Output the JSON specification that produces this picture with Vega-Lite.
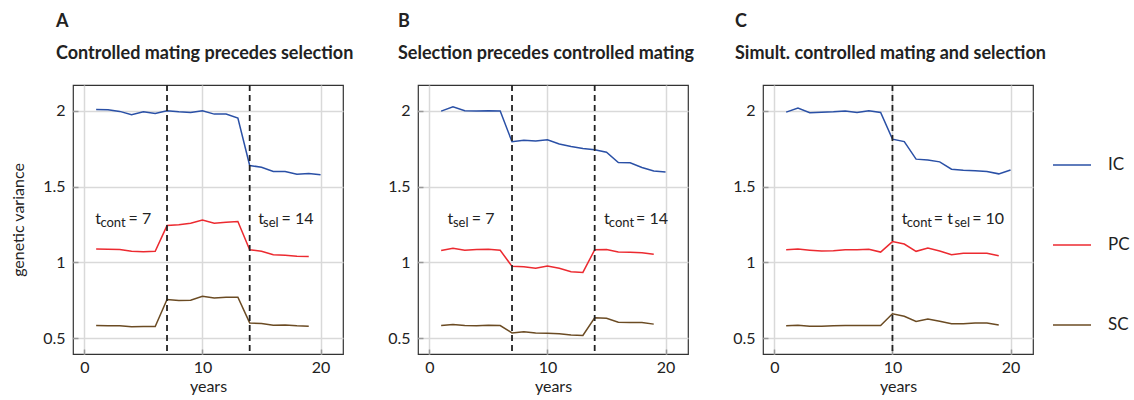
{
  "$schema": "https://vega.github.io/schema/vega-lite/v6.json",
  "background": "white",
  "padding": {"left": 10, "top": 12, "right": 5, "bottom": 5},
  "config": {
    "font": "Lato",
    "view": {"stroke": "#333333", "strokeWidth": 1.2},
    "axis": {"gridColor": "#d9d9d9", "gridWidth": 1.5, "domain": false, "tickColor": "#9a9a9a", "tickSize": -5, "tickWidth": 1.5, "labelFontSize": 16, "labelColor": "#222222", "titleFontSize": 16, "titleFontWeight": "normal", "titleColor": "#222222", "labelFont": "Lato", "titleFont": "Lato"},
    "axisX": {"labelPadding": 10},
    "axisY": {"labelPadding": 13},
    "title": {"font": "Lato", "color": "#222222", "fontSize": 18, "fontWeight": "bold", "subtitleFont": "Lato", "subtitleFontSize": 18, "subtitleFontWeight": "bold", "subtitleColor": "#222222", "subtitlePadding": 14, "anchor": "start", "frame": "group", "offset": 21},
    "legend": {"labelFont": "Lato"}
  },
  "datasets": {
    "series": [
      {"p":"A","s":"IC","year":1,"v":2.009},{"p":"A","s":"IC","year":2,"v":2.007},{"p":"A","s":"IC","year":3,"v":1.996},{"p":"A","s":"IC","year":4,"v":1.974},{"p":"A","s":"IC","year":5,"v":1.993},{"p":"A","s":"IC","year":6,"v":1.982},{"p":"A","s":"IC","year":7,"v":2.0},{"p":"A","s":"IC","year":8,"v":1.993},{"p":"A","s":"IC","year":9,"v":1.989},{"p":"A","s":"IC","year":10,"v":2.0},{"p":"A","s":"IC","year":11,"v":1.978},{"p":"A","s":"IC","year":12,"v":1.978},{"p":"A","s":"IC","year":13,"v":1.952},{"p":"A","s":"IC","year":14,"v":1.639},{"p":"A","s":"IC","year":15,"v":1.628},{"p":"A","s":"IC","year":16,"v":1.6},{"p":"A","s":"IC","year":17,"v":1.6},{"p":"A","s":"IC","year":18,"v":1.582},{"p":"A","s":"IC","year":19,"v":1.587},{"p":"A","s":"IC","year":20,"v":1.578},
      {"p":"A","s":"PC","year":1,"v":1.089},{"p":"A","s":"PC","year":2,"v":1.087},{"p":"A","s":"PC","year":3,"v":1.085},{"p":"A","s":"PC","year":4,"v":1.074},{"p":"A","s":"PC","year":5,"v":1.07},{"p":"A","s":"PC","year":6,"v":1.074},{"p":"A","s":"PC","year":7,"v":1.243},{"p":"A","s":"PC","year":8,"v":1.248},{"p":"A","s":"PC","year":9,"v":1.259},{"p":"A","s":"PC","year":10,"v":1.279},{"p":"A","s":"PC","year":11,"v":1.259},{"p":"A","s":"PC","year":12,"v":1.265},{"p":"A","s":"PC","year":13,"v":1.27},{"p":"A","s":"PC","year":14,"v":1.083},{"p":"A","s":"PC","year":15,"v":1.074},{"p":"A","s":"PC","year":16,"v":1.05},{"p":"A","s":"PC","year":17,"v":1.048},{"p":"A","s":"PC","year":18,"v":1.041},{"p":"A","s":"PC","year":19,"v":1.039},
      {"p":"A","s":"SC","year":1,"v":0.584},{"p":"A","s":"SC","year":2,"v":0.582},{"p":"A","s":"SC","year":3,"v":0.582},{"p":"A","s":"SC","year":4,"v":0.575},{"p":"A","s":"SC","year":5,"v":0.577},{"p":"A","s":"SC","year":6,"v":0.577},{"p":"A","s":"SC","year":7,"v":0.755},{"p":"A","s":"SC","year":8,"v":0.749},{"p":"A","s":"SC","year":9,"v":0.751},{"p":"A","s":"SC","year":10,"v":0.777},{"p":"A","s":"SC","year":11,"v":0.766},{"p":"A","s":"SC","year":12,"v":0.771},{"p":"A","s":"SC","year":13,"v":0.771},{"p":"A","s":"SC","year":14,"v":0.601},{"p":"A","s":"SC","year":15,"v":0.597},{"p":"A","s":"SC","year":16,"v":0.586},{"p":"A","s":"SC","year":17,"v":0.588},{"p":"A","s":"SC","year":18,"v":0.582},{"p":"A","s":"SC","year":19,"v":0.579},
      {"p":"B","s":"IC","year":1,"v":1.998},{"p":"B","s":"IC","year":2,"v":2.027},{"p":"B","s":"IC","year":3,"v":2.0},{"p":"B","s":"IC","year":4,"v":1.998},{"p":"B","s":"IC","year":5,"v":2.0},{"p":"B","s":"IC","year":6,"v":1.998},{"p":"B","s":"IC","year":7,"v":1.796},{"p":"B","s":"IC","year":8,"v":1.805},{"p":"B","s":"IC","year":9,"v":1.801},{"p":"B","s":"IC","year":10,"v":1.809},{"p":"B","s":"IC","year":11,"v":1.781},{"p":"B","s":"IC","year":12,"v":1.765},{"p":"B","s":"IC","year":13,"v":1.752},{"p":"B","s":"IC","year":14,"v":1.743},{"p":"B","s":"IC","year":15,"v":1.727},{"p":"B","s":"IC","year":16,"v":1.659},{"p":"B","s":"IC","year":17,"v":1.657},{"p":"B","s":"IC","year":18,"v":1.626},{"p":"B","s":"IC","year":19,"v":1.603},{"p":"B","s":"IC","year":20,"v":1.597},
      {"p":"B","s":"PC","year":1,"v":1.078},{"p":"B","s":"PC","year":2,"v":1.094},{"p":"B","s":"PC","year":3,"v":1.08},{"p":"B","s":"PC","year":4,"v":1.085},{"p":"B","s":"PC","year":5,"v":1.087},{"p":"B","s":"PC","year":6,"v":1.08},{"p":"B","s":"PC","year":7,"v":0.974},{"p":"B","s":"PC","year":8,"v":0.972},{"p":"B","s":"PC","year":9,"v":0.961},{"p":"B","s":"PC","year":10,"v":0.976},{"p":"B","s":"PC","year":11,"v":0.961},{"p":"B","s":"PC","year":12,"v":0.939},{"p":"B","s":"PC","year":13,"v":0.934},{"p":"B","s":"PC","year":14,"v":1.083},{"p":"B","s":"PC","year":15,"v":1.085},{"p":"B","s":"PC","year":16,"v":1.069},{"p":"B","s":"PC","year":17,"v":1.067},{"p":"B","s":"PC","year":18,"v":1.063},{"p":"B","s":"PC","year":19,"v":1.054},
      {"p":"B","s":"SC","year":1,"v":0.584},{"p":"B","s":"SC","year":2,"v":0.591},{"p":"B","s":"SC","year":3,"v":0.584},{"p":"B","s":"SC","year":4,"v":0.582},{"p":"B","s":"SC","year":5,"v":0.586},{"p":"B","s":"SC","year":6,"v":0.584},{"p":"B","s":"SC","year":7,"v":0.535},{"p":"B","s":"SC","year":8,"v":0.542},{"p":"B","s":"SC","year":9,"v":0.535},{"p":"B","s":"SC","year":10,"v":0.533},{"p":"B","s":"SC","year":11,"v":0.529},{"p":"B","s":"SC","year":12,"v":0.522},{"p":"B","s":"SC","year":13,"v":0.518},{"p":"B","s":"SC","year":14,"v":0.635},{"p":"B","s":"SC","year":15,"v":0.631},{"p":"B","s":"SC","year":16,"v":0.606},{"p":"B","s":"SC","year":17,"v":0.604},{"p":"B","s":"SC","year":18,"v":0.604},{"p":"B","s":"SC","year":19,"v":0.593},
      {"p":"C","s":"IC","year":1,"v":1.991},{"p":"C","s":"IC","year":2,"v":2.018},{"p":"C","s":"IC","year":3,"v":1.987},{"p":"C","s":"IC","year":4,"v":1.991},{"p":"C","s":"IC","year":5,"v":1.993},{"p":"C","s":"IC","year":6,"v":1.998},{"p":"C","s":"IC","year":7,"v":1.989},{"p":"C","s":"IC","year":8,"v":2.0},{"p":"C","s":"IC","year":9,"v":1.989},{"p":"C","s":"IC","year":10,"v":1.813},{"p":"C","s":"IC","year":11,"v":1.797},{"p":"C","s":"IC","year":12,"v":1.681},{"p":"C","s":"IC","year":13,"v":1.676},{"p":"C","s":"IC","year":14,"v":1.663},{"p":"C","s":"IC","year":15,"v":1.615},{"p":"C","s":"IC","year":16,"v":1.608},{"p":"C","s":"IC","year":17,"v":1.604},{"p":"C","s":"IC","year":18,"v":1.599},{"p":"C","s":"IC","year":19,"v":1.584},{"p":"C","s":"IC","year":20,"v":1.61},
      {"p":"C","s":"PC","year":1,"v":1.084},{"p":"C","s":"PC","year":2,"v":1.088},{"p":"C","s":"PC","year":3,"v":1.081},{"p":"C","s":"PC","year":4,"v":1.075},{"p":"C","s":"PC","year":5,"v":1.077},{"p":"C","s":"PC","year":6,"v":1.084},{"p":"C","s":"PC","year":7,"v":1.084},{"p":"C","s":"PC","year":8,"v":1.086},{"p":"C","s":"PC","year":9,"v":1.068},{"p":"C","s":"PC","year":10,"v":1.137},{"p":"C","s":"PC","year":11,"v":1.121},{"p":"C","s":"PC","year":12,"v":1.073},{"p":"C","s":"PC","year":13,"v":1.095},{"p":"C","s":"PC","year":14,"v":1.075},{"p":"C","s":"PC","year":15,"v":1.051},{"p":"C","s":"PC","year":16,"v":1.06},{"p":"C","s":"PC","year":17,"v":1.06},{"p":"C","s":"PC","year":18,"v":1.06},{"p":"C","s":"PC","year":19,"v":1.044},
      {"p":"C","s":"SC","year":1,"v":0.582},{"p":"C","s":"SC","year":2,"v":0.586},{"p":"C","s":"SC","year":3,"v":0.579},{"p":"C","s":"SC","year":4,"v":0.579},{"p":"C","s":"SC","year":5,"v":0.582},{"p":"C","s":"SC","year":6,"v":0.584},{"p":"C","s":"SC","year":7,"v":0.584},{"p":"C","s":"SC","year":8,"v":0.584},{"p":"C","s":"SC","year":9,"v":0.584},{"p":"C","s":"SC","year":10,"v":0.661},{"p":"C","s":"SC","year":11,"v":0.645},{"p":"C","s":"SC","year":12,"v":0.61},{"p":"C","s":"SC","year":13,"v":0.626},{"p":"C","s":"SC","year":14,"v":0.612},{"p":"C","s":"SC","year":15,"v":0.595},{"p":"C","s":"SC","year":16,"v":0.595},{"p":"C","s":"SC","year":17,"v":0.601},{"p":"C","s":"SC","year":18,"v":0.601},{"p":"C","s":"SC","year":19,"v":0.588}
    ],
    "vlines": [
      {"p":"A","year":7},{"p":"A","year":14},{"p":"B","year":7},{"p":"B","year":14},{"p":"C","year":10}
    ],
    "notes": [
      {"p":"A","part":"main","year":0.93,"v":1.251,"label":"t"},
      {"p":"A","part":"sub","year":1.36,"v":1.251,"label":"cont"},
      {"p":"A","part":"main","year":3.74,"v":1.251,"label":"= 7"},
      {"p":"A","part":"main","year":14.73,"v":1.251,"label":"t"},
      {"p":"A","part":"sub","year":15.13,"v":1.251,"label":"sel"},
      {"p":"A","part":"main","year":16.7,"v":1.251,"label":"= 14"},
      {"p":"B","part":"main","year":1.53,"v":1.251,"label":"t"},
      {"p":"B","part":"sub","year":2.0,"v":1.251,"label":"sel"},
      {"p":"B","part":"main","year":3.6,"v":1.251,"label":"= 7"},
      {"p":"B","part":"main","year":14.79,"v":1.251,"label":"t"},
      {"p":"B","part":"sub","year":15.2,"v":1.251,"label":"cont"},
      {"p":"B","part":"main","year":17.5,"v":1.251,"label":"= 14"},
      {"p":"C","part":"main","year":10.79,"v":1.251,"label":"t"},
      {"p":"C","part":"sub","year":11.21,"v":1.251,"label":"cont"},
      {"p":"C","part":"main","year":13.5,"v":1.251,"label":"= t"},
      {"p":"C","part":"sub","year":15.25,"v":1.251,"label":"sel"},
      {"p":"C","part":"main","year":16.75,"v":1.251,"label":"= 10"}
    ]
  },
  "bounds": "flush",
  "spacing": 75,
  "hconcat": [
    {
      "title": {"text": "A", "subtitle": "Controlled mating precedes selection", "dx": -17},
      "width": 270, "height": 269,
      "layer": [
        {"data": {"name": "series"}, "transform": [{"filter": "datum.p === 'A'"}],
         "mark": {"type": "line", "strokeWidth": 1.5},
         "encoding": {
           "x": {"field": "year", "type": "quantitative", "scale": {"domain": [-0.96, 21.9], "nice": false, "zero": false}, "axis": {"values": [0, 10, 20], "format": "d", "title": "years", "titlePadding": 3}},
           "y": {"field": "v", "type": "quantitative", "scale": {"domain": [0.396, 2.17], "nice": false, "zero": false}, "axis": {"values": [0.5, 1, 1.5, 2], "format": "~g", "title": "genetic variance", "titlePadding": 16}},
           "color": {"field": "s", "type": "nominal", "scale": {"domain": ["IC", "PC", "SC"], "range": ["#2a50a6", "#ec2a30", "#6b4b23"]},
             "legend": {"title": null, "orient": "none", "legendX": 979, "legendY": 60, "symbolType": "stroke", "symbolStrokeWidth": 1.5, "symbolSize": 1444, "labelFontSize": 17, "labelColor": "#222222", "labelOffset": 16, "rowPadding": 52}}
         }},
        {"data": {"name": "vlines"}, "transform": [{"filter": "datum.p === 'A'"}],
         "mark": {"type": "rule", "strokeDash": [6, 4], "strokeWidth": 1.8, "color": "#222222"},
         "encoding": {"x": {"field": "year", "type": "quantitative", "title": "years"}}},
        {"data": {"name": "notes"}, "transform": [{"filter": "datum.p === 'A' && datum.part === 'main'"}],
         "mark": {"type": "text", "align": "left", "baseline": "alphabetic", "fontSize": 16, "color": "#222222"},
         "encoding": {"x": {"field": "year", "type": "quantitative", "title": "years"}, "y": {"field": "v", "type": "quantitative", "title": "genetic variance"}, "text": {"field": "label"}}},
        {"data": {"name": "notes"}, "transform": [{"filter": "datum.p === 'A' && datum.part === 'sub'"}],
         "mark": {"type": "text", "align": "left", "baseline": "alphabetic", "fontSize": 13, "dy": 3, "color": "#222222"},
         "encoding": {"x": {"field": "year", "type": "quantitative", "title": "years"}, "y": {"field": "v", "type": "quantitative", "title": "genetic variance"}, "text": {"field": "label"}}}
      ]
    },
    {
      "title": {"text": "B", "subtitle": "Selection precedes controlled mating", "dx": -20},
      "width": 270, "height": 269,
      "layer": [
        {"data": {"name": "series"}, "transform": [{"filter": "datum.p === 'B'"}],
         "mark": {"type": "line", "strokeWidth": 1.5},
         "encoding": {
           "x": {"field": "year", "type": "quantitative", "scale": {"domain": [-0.96, 21.9], "nice": false, "zero": false}, "axis": {"values": [0, 10, 20], "format": "d", "title": "years", "titlePadding": 3}},
           "y": {"field": "v", "type": "quantitative", "scale": {"domain": [0.396, 2.17], "nice": false, "zero": false}, "axis": {"values": [0.5, 1, 1.5, 2], "format": "~g", "title": null}},
           "color": {"field": "s", "type": "nominal", "scale": {"domain": ["IC", "PC", "SC"], "range": ["#2a50a6", "#ec2a30", "#6b4b23"]}}
         }},
        {"data": {"name": "vlines"}, "transform": [{"filter": "datum.p === 'B'"}],
         "mark": {"type": "rule", "strokeDash": [6, 4], "strokeWidth": 1.8, "color": "#222222"},
         "encoding": {"x": {"field": "year", "type": "quantitative", "title": "years"}}},
        {"data": {"name": "notes"}, "transform": [{"filter": "datum.p === 'B' && datum.part === 'main'"}],
         "mark": {"type": "text", "align": "left", "baseline": "alphabetic", "fontSize": 16, "color": "#222222"},
         "encoding": {"x": {"field": "year", "type": "quantitative", "title": "years"}, "y": {"field": "v", "type": "quantitative", "title": null}, "text": {"field": "label"}}},
        {"data": {"name": "notes"}, "transform": [{"filter": "datum.p === 'B' && datum.part === 'sub'"}],
         "mark": {"type": "text", "align": "left", "baseline": "alphabetic", "fontSize": 13, "dy": 3, "color": "#222222"},
         "encoding": {"x": {"field": "year", "type": "quantitative", "title": "years"}, "y": {"field": "v", "type": "quantitative", "title": null}, "text": {"field": "label"}}}
      ]
    },
    {
      "title": {"text": "C", "subtitle": "Simult. controlled mating and selection", "dx": -28},
      "width": 270, "height": 269,
      "layer": [
        {"data": {"name": "series"}, "transform": [{"filter": "datum.p === 'C'"}],
         "mark": {"type": "line", "strokeWidth": 1.5},
         "encoding": {
           "x": {"field": "year", "type": "quantitative", "scale": {"domain": [-0.96, 21.9], "nice": false, "zero": false}, "axis": {"values": [0, 10, 20], "format": "d", "title": "years", "titlePadding": 3}},
           "y": {"field": "v", "type": "quantitative", "scale": {"domain": [0.396, 2.17], "nice": false, "zero": false}, "axis": {"values": [0.5, 1, 1.5, 2], "format": "~g", "title": null}},
           "color": {"field": "s", "type": "nominal", "scale": {"domain": ["IC", "PC", "SC"], "range": ["#2a50a6", "#ec2a30", "#6b4b23"]}}
         }},
        {"data": {"name": "vlines"}, "transform": [{"filter": "datum.p === 'C'"}],
         "mark": {"type": "rule", "strokeDash": [6, 4], "strokeWidth": 1.8, "color": "#222222"},
         "encoding": {"x": {"field": "year", "type": "quantitative", "title": "years"}}},
        {"data": {"name": "notes"}, "transform": [{"filter": "datum.p === 'C' && datum.part === 'main'"}],
         "mark": {"type": "text", "align": "left", "baseline": "alphabetic", "fontSize": 16, "color": "#222222"},
         "encoding": {"x": {"field": "year", "type": "quantitative", "title": "years"}, "y": {"field": "v", "type": "quantitative", "title": null}, "text": {"field": "label"}}},
        {"data": {"name": "notes"}, "transform": [{"filter": "datum.p === 'C' && datum.part === 'sub'"}],
         "mark": {"type": "text", "align": "left", "baseline": "alphabetic", "fontSize": 13, "dy": 3, "color": "#222222"},
         "encoding": {"x": {"field": "year", "type": "quantitative", "title": "years"}, "y": {"field": "v", "type": "quantitative", "title": null}, "text": {"field": "label"}}}
      ]
    }
  ]
}
